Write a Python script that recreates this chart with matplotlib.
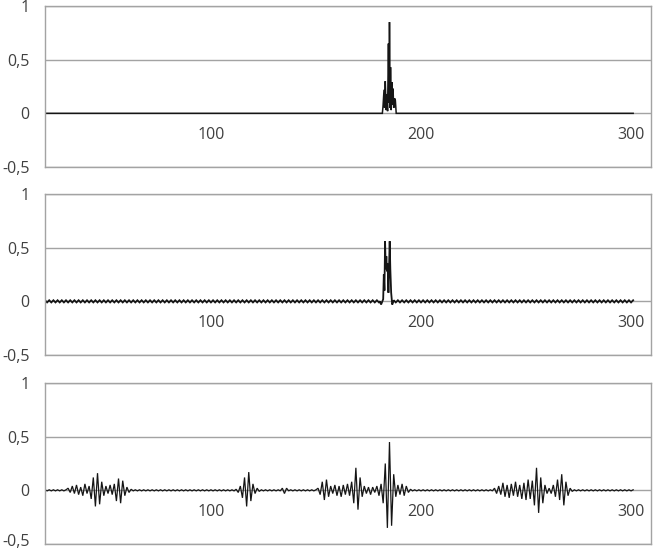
import numpy as np
import matplotlib
matplotlib.use("Agg")
import matplotlib.pyplot as plt
import matplotlib.transforms as mtransforms

plt.rcParams['font.family'] = ['Open Sans', 'DejaVu Sans']

# ---------------- data ----------------
x_first = 21
x_last = 301
x_tick_values = [100, 200, 300]
x_tick_labels = ["100", "200", "300"]
y_tick_values = [-0.5, 0, 0.5, 1]
y_tick_labels = ["-0,5", "0", "0,5", "1"]

# Panel 1: flat baseline with one burst
p1_base_x = [21, 181.6, 188.2, 301]
p1_base_y = [0.0, 0.0, 0.0, 0.0]
p1_burst_x = [181.6, 181.9, 182.4, 182.7, 183.0, 183.4, 183.7, 184.1, 184.5, 184.8,
              185.0, 185.3, 185.5, 185.8, 186.2, 186.4, 186.7, 187.0, 187.4, 187.8, 188.2]
p1_burst_y = [0.0, 0.06, 0.22, 0.05, 0.30, 0.03, 0.18, 0.02, 0.65, 0.10,
              0.85, 0.05, 0.43, 0.03, 0.29, 0.08, 0.23, 0.05, 0.14, 0.12, 0.0]

# Panel 2: fine ripple baseline (x = 21..180 and 187..301) with one burst
p2_left_y = [
    .01, -.01, .01, -.01, .01, -.01, .01, -.01, .01, -.01,
    .01, -.01, .01, -.01, .01, -.01, .01, -.01, .01, -.01,
    .01, -.01, .01, -.01, .01, -.01, .01, -.01, .01, -.01,
    .01, -.01, .01, -.01, .01, -.01, .01, -.01, .01, -.01,
    .01, -.01, .01, -.01, .01, -.01, .01, -.01, .01, -.01,
    .01, -.01, .01, -.01, .01, -.01, .01, -.01, .01, -.01,
    .01, -.01, .01, -.01, .01, -.01, .01, -.01, .01, -.01,
    .01, -.01, .01, -.01, .01, -.01, .01, -.01, .01, -.01,
    .01, -.01, .01, -.01, .01, -.01, .01, -.01, .01, -.01,
    .01, -.01, .01, -.01, .01, -.01, .01, -.01, .01, -.01,
    .01, -.01, .01, -.01, .01, -.01, .01, -.01, .01, -.01,
    .01, -.01, .01, -.01, .01, -.01, .01, -.01, .01, -.01,
    .01, -.01, .01, -.01, .01, -.01, .01, -.01, .01, -.01,
    .01, -.01, .01, -.01, .01, -.01, .01, -.01, .01, -.01,
    .01, -.01, .01, -.01, .01, -.01, .01, -.01, .01, -.01,
    .01, -.01, .01, -.01, .01, -.01, .01, -.01, .01, -.01,
]
p2_burst_x = [180.5, 181.0, 181.6, 182.0, 182.3, 182.6, 182.9, 183.2, 183.5, 183.8,
              184.1, 184.5, 185.1, 185.4, 185.8, 186.3, 186.9]
p2_burst_y = [0.0, -0.03, 0.0, 0.02, 0.25, 0.10, 0.56, 0.30, 0.42, 0.28,
              0.35, 0.08, 0.56, 0.30, 0.08, -0.03, 0.0]
p2_right_y = [
    .01, -.01, .01, -.01, .01, -.01, .01, -.01, .01, -.01,
    .01, -.01, .01, -.01, .01, -.01, .01, -.01, .01, -.01,
    .01, -.01, .01, -.01, .01, -.01, .01, -.01, .01, -.01,
    .01, -.01, .01, -.01, .01, -.01, .01, -.01, .01, -.01,
    .01, -.01, .01, -.01, .01, -.01, .01, -.01, .01, -.01,
    .01, -.01, .01, -.01, .01, -.01, .01, -.01, .01, -.01,
    .01, -.01, .01, -.01, .01, -.01, .01, -.01, .01, -.01,
    .01, -.01, .01, -.01, .01, -.01, .01, -.01, .01, -.01,
    .01, -.01, .01, -.01, .01, -.01, .01, -.01, .01, -.01,
    .01, -.01, .01, -.01, .01, -.01, .01, -.01, .01, -.01,
    .01, -.01, .01, -.01, .01, -.01, .01, -.01, .01, -.01,
    .01, -.01, .01, -.01, .01,
]

# Panel 3: one sample per unit, x = 21..301
p3_seg_a = [.005, -.005, .005, -.005, .005, -.005, .005, -.005, .005, -.005, .005]          # 21-31
p3_burst_1 = [.02, -.02, .04, -.03, .05, -.04, .03, -.05, .06, -.03,
              .04, -.08, .12, -.15, .16, -.13, .08, -.05, .04, -.03,
              .05, -.04, .06, -.10, .11, -.12, .09, -.05, .03, -.02, .01]                # 32-62
p3_seg_b = [-.005, .005, -.005, .005, -.005, .005, -.005, .005, -.005, .005,
            -.005, .005, -.005, .005, -.005, .005, -.005, .005, -.005, .005,
            -.005, .005, -.005, .005, -.005, .005, -.005, .005, -.005, .005,
            -.005, .005, -.005, .005, -.005, .005, -.005, .005, -.005, .005,
            -.005, .005, -.005, .005, -.005, .005, -.005, .005, -.005]                   # 63-111
p3_burst_2 = [.01, -.02, .04, -.07, .12, -.15, .17, -.10, .06, -.03, .02, -.01]         # 112-123
p3_seg_c = [.005, -.005, .005, -.005, .005, -.005, .005, -.005, .005, -.005]            # 124-133
p3_blip = [.02, -.03, .02]                                                               # 134-136
p3_seg_d = [-.005, .005, -.005, .005, -.005, .005, -.005, .005, -.005, .005,
            -.005, .005, -.005, .005]                                                    # 137-150
p3_burst_3 = [.02, -.04, .08, -.09, .10, -.06, .04, -.03, .05, -.05,
              .04, -.06, .05, -.04, .06, -.05, .08, -.12, .21, -.18,
              .12, -.06, .04, -.03, .03, -.04, .03, -.02, .04, -.05,
              .06, -.12, .25, -.35, .45, -.33, .15, -.06, .05, -.04,
              .06, -.05, .04, -.02, .01]                                                 # 151-195
p3_seg_e = [-.005, .005, -.005, .005, -.005, .005, -.005, .005, -.005, .005,
            -.005, .005, -.005, .005, -.005, .005, -.005, .005, -.005, .005,
            -.005, .005, -.005, .005, -.005, .005, -.005, .005, -.005, .005,
            -.005, .005, -.005, .005, -.005, .005, -.005, .005, -.005]                   # 196-234
p3_burst_4 = [.02, -.03, .04, -.04, .07, -.06, .05, -.07, .06, -.05,
              .08, -.06, .05, -.08, .07, -.09, .10, -.08, .09, -.14,
              .21, -.21, .12, -.12, .05, -.03, .02, -.03, .05, -.06,
              .10, -.09, .15, -.14, .08, -.05, .02, -.01]                                # 235-272
p3_seg_f = [.005, -.005, .005, -.005, .005, -.005, .005, -.005, .005, -.005,
            .005, -.005, .005, -.005, .005, -.005, .005, -.005, .005, -.005,
            .005, -.005, .005, -.005, .005, -.005, .005, -.005, .005]                    # 273-301

# ---------------- assemble ----------------
p1_x = np.array(p1_base_x[:2] + p1_burst_x[1:-1] + p1_base_x[2:])
p1_y = np.array(p1_base_y[:2] + p1_burst_y[1:-1] + p1_base_y[2:])

p2_x = np.concatenate([np.arange(x_first, 181), p2_burst_x, np.arange(187, x_last + 1)])
p2_y = np.array(p2_left_y + p2_burst_y + p2_right_y)

p3_y = np.array(p3_seg_a + p3_burst_1 + p3_seg_b + p3_burst_2 + p3_seg_c + p3_blip +
                p3_seg_d + p3_burst_3 + p3_seg_e + p3_burst_4 + p3_seg_f)
p3_x = np.arange(x_first, x_first + len(p3_y))

series = [(p1_x, p1_y, 1.1), (p2_x, p2_y, 1.3), (p3_x, p3_y, 0.9)]

# ---------------- figure ----------------
W, H = 654, 552
fig = plt.figure(figsize=(W / 100, H / 100), dpi=100)

frame_color = '#a3a3a3'
text_color = '#404040'
line_color = '#151515'

left_px, right_px = 45, 651
panel_tops = [6, 194, 383]
panel_h = 161

axes = []
for (xs, ys, lw), top in zip(series, panel_tops):
    ax = fig.add_axes([left_px / W, 1 - (top + panel_h) / H,
                       (right_px - left_px) / W, panel_h / H])
    ax.plot(xs, ys, color=line_color, lw=lw, solid_joinstyle='miter')
    ax.set_xlim(21, 309.5)
    ax.set_ylim(-0.5, 1)
    ax.set_yticks(y_tick_values)
    ax.set_yticklabels(y_tick_labels)
    ax.set_xticks(x_tick_values)
    ax.set_xticklabels(x_tick_labels)
    ax.grid(axis='y', color=frame_color, lw=1.0)
    ax.set_axisbelow(True)
    for sp in ax.spines.values():
        sp.set_color(frame_color)
        sp.set_linewidth(1.0)
    ax.tick_params(axis='both', length=0, labelsize=11.5, labelcolor=text_color)
    ax.tick_params(axis='y', pad=11)
    ax.tick_params(axis='x', pad=-23)
    for lab in ax.get_xticklabels():
        lab.set_verticalalignment('center')
    axes.append(ax)

# keep the lowest "-0,5" label inside the image
low_label = axes[-1].get_yticklabels()[0]
low_label.set_transform(low_label.get_transform() +
                        mtransforms.ScaledTranslation(0, 3 / 72, fig.dpi_scale_trans))

fig.savefig('out.png', dpi=100)
